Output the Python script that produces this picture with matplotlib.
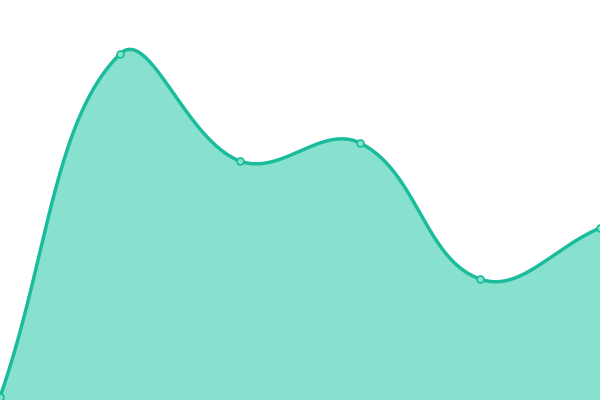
import matplotlib
matplotlib.use('Agg')
import matplotlib.pyplot as plt
import numpy as np

# category positions and values (y axis 0..400, no axes shown)
xs = [0, 1, 2, 3, 4, 5]
vals = [3, 346, 239, 257, 121, 172]

line_col = '#1abc9c'
fill_col = '#88e0cf'
tension = 0.4


def spline(P, t, n=80):
    # chart.js style spline: control points weighted by neighbour distances
    N = len(P)
    cps = []
    for i in range(N):
        prev = P[i-1] if i > 0 else P[i]
        nxt = P[i+1] if i < N - 1 else P[i]
        d01 = np.hypot(*(P[i] - prev))
        d12 = np.hypot(*(nxt - P[i]))
        tot = d01 + d12
        s01 = d01 / tot if tot else 0
        s12 = d12 / tot if tot else 0
        cps.append((P[i] - t * s01 * (nxt - prev), P[i] + t * s12 * (nxt - prev)))
    u = np.linspace(0, 1, n)[:, None]
    out = []
    for i in range(N - 1):
        a, b = P[i], cps[i][1]
        c, d = cps[i+1][0], P[i+1]
        seg = (1-u)**3*a + 3*(1-u)**2*u*b + 3*(1-u)*u**2*c + u**3*d
        out.append(seg if i == 0 else seg[1:])
    return np.vstack(out)


fig = plt.figure(figsize=(6, 4), dpi=100)
ax = fig.add_axes([0, 0, 1, 1])
ax.set_xlim(0, 5)
ax.set_ylim(0, 400)
ax.axis('off')

pts_disp = ax.transData.transform(np.column_stack([xs, vals]))
curve = ax.transData.inverted().transform(spline(pts_disp, tension))
cx, cy = curve[:, 0], curve[:, 1]

ax.fill_between(cx, cy, 0, color=fill_col, lw=0)
ax.plot(cx, cy, color=line_col, lw=2.5, solid_capstyle='round')
ax.plot(xs, vals, 'o', ms=5, mfc=fill_col, mec=line_col, mew=1.2, clip_on=False)
fig.savefig('out.png', dpi=100)
